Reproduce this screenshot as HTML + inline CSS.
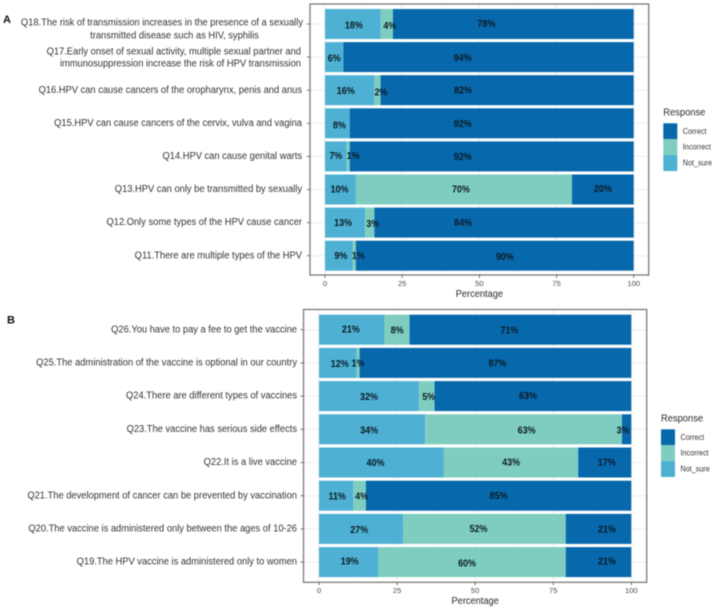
<!DOCTYPE html>
<html>
<head>
<meta charset="utf-8">
<title>HPV knowledge response charts</title>
<style>
html,body{margin:0;padding:0;background:#fff;}
#chart{display:block;width:717px;height:615px;filter:blur(0.45px);}
text{font-family:"Liberation Sans",sans-serif;}
</style>
</head>
<body>
<svg id="chart" xmlns="http://www.w3.org/2000/svg" width="717" height="615" viewBox="0 0 717 615"></svg>
<script>
const categoriesA = ["Q18","Q17","Q16.HPV can cause cancers of the oropharynx, penis and anus","Q15.HPV can cause cancers of the cervix, vulva and vagina","Q14.HPV can cause genital warts","Q13.HPV can only be transmitted by sexually","Q12.Only some types of the HPV cause cancer","Q11.There are multiple types of the HPV"];
const notSureA = [18,6,16,8,7,10,13,9];
const incorrectA = [4,0,2,0,1,70,3,1];
const correctA = [78,94,82,92,92,20,84,90];

const categoriesB = ["Q26.You have to pay a fee to get the vaccine","Q25.The administration of the vaccine is optional in our country","Q24.There are different types of vaccines","Q23.The vaccine has serious side effects","Q22.It is a live vaccine","Q21.The development of cancer can be prevented by vaccination","Q20.The vaccine is administered only between the ages of 10-26","Q19.The HPV vaccine is administered only to women"];
const notSureB = [21,12,32,34,40,11,27,19];
const incorrectB = [8,1,5,63,43,4,52,60];
const correctB = [71,87,63,3,17,85,21,21];

const xTicks = [0,25,50,75,100];
const legendLabels = ["Correct","Incorrect","Not_sure"];

const colors = {Correct:"#0868ac",Incorrect:"#7fcdc0",Not_sure:"#4eb1d3"};

// Hand-placed annotation offsets relative to each segment's centre: [dx,dy] for not-sure, incorrect, correct
const nudgeA = [
  [[1,2],[3,2.5],[-27,0.5]],
  [[0,1.5],[0,0],[-26,1]],
  [[-4,1],[3.5,2.5],[-44,0.5]],
  [[2,2.5],[0,0],[-29,1]],
  [[0,0],[5,0],[-29,1]],
  [[-1,0.5],[-3,0.5],[0,0]],
  [[-2,0.5],[3,1.5],[-41,0.5]],
  [[2,0.5],[4,0.5],[10,1.5]]
];
const nudgeB = [
  [[-1,0],[0,1],[-11,1]],
  [[2,1.5],[0,1],[2,1]],
  [[0,1],[2,1],[-5,0]],
  [[-3,1.5],[3,1.5],[-3.6,1.5]],
  [[-6,1],[0,0.5],[2,0.5]],
  [[1,1],[2,1],[0,0.5]],
  [[-2,1.5],[-6,0.5],[8.5,1]],
  [[1,-0.5],[-5,1.5],[8.5,-0.5]]
];

const svg = document.getElementById("chart");
const NS = "http://www.w3.org/2000/svg";

function make(tag, attrs, parent, content){
  const el = document.createElementNS(NS, tag);
  for (const k in attrs) el.setAttribute(k, attrs[k]);
  if (content !== undefined) el.textContent = content;
  (parent || svg).appendChild(el);
  return el;
}

function condensed(x, y, str, anchor, parent){
  return make("text",{transform:`translate(${x},${y}) scale(0.89,1)`,"text-anchor":anchor,"font-size":"10.5","fill":"#333","dominant-baseline":"central"},parent,str);
}

function drawPanel(cfg){
  const group = make("g",{});
  
  
  const xScale = v => cfg.x0 + (cfg.x100 - cfg.x0) * v / 100;
  const yScale = i => cfg.firstY + cfg.stepY * i;

  // gridlines
  [12.5,37.5,62.5,87.5].forEach(v=>{
    const g = make("line",{x1:xScale(v),x2:xScale(v),y1:cfg.top,y2:cfg.bottom,stroke:"#f3f3f3","stroke-width":0.6},group);
    
    
  });
  xTicks.forEach(v=>{
    const g = make("line",{x1:xScale(v),x2:xScale(v),y1:cfg.top,y2:cfg.bottom,stroke:"#ececec","stroke-width":1},group);
    
    
  });
  cfg.categories.forEach((c,i)=>{
    const g = make("line",{x1:cfg.left,x2:cfg.right,y1:yScale(i),y2:yScale(i),stroke:"#ececec","stroke-width":1},group);
    
    
  });

  // bars
  cfg.categories.forEach((c,i)=>{
    const segs = [
      {key:"Not_sure",v:cfg.notSure[i]},
      {key:"Incorrect",v:cfg.incorrect[i]},
      {key:"Correct",v:cfg.correct[i]}
    ];
    let acc = 0;
    segs.forEach(s=>{
      if (s.v > 0) {
        const r = make("rect",{x:xScale(acc),y:yScale(i)-cfg.barH/2,width:xScale(acc+s.v)-xScale(acc),height:cfg.barH,fill:colors[s.key]},group);
        
        
      }
      acc += s.v;
    });
    acc = 0;
    segs.forEach((s,j)=>{
      if (s.v > 0) {
        const n = cfg.nudge[i][j];
        const t = make("text",{transform:`translate(${xScale(acc + s.v/2)+n[0]},${yScale(i)+n[1]}) scale(0.88,1)`,"text-anchor":"middle","dominant-baseline":"central","font-size":"10.2","font-weight":"bold",fill:"#0a1a24"},group,s.v+"%");
        
        
      }
      acc += s.v;
    });
  });

  // panel border
  const border = make("rect",{x:cfg.left,y:cfg.top,width:cfg.right-cfg.left,height:cfg.bottom-cfg.top,fill:"none",stroke:"#7a7a7a","stroke-width":1.3},group);
  
  

  // x axis
  xTicks.forEach(v=>{
    const tk = make("line",{x1:xScale(v),x2:xScale(v),y1:cfg.bottom,y2:cfg.bottom+3,stroke:"#555","stroke-width":0.8},group);
    
    
    const lb = make("text",{x:xScale(v),y:cfg.bottom+8.3,"text-anchor":"middle","dominant-baseline":"central","font-size":"7.6",fill:"#4a4a4a"},group,String(v));
    
    
  });
  const xt = make("text",{transform:`translate(${(cfg.x0+cfg.x100)/2},${cfg.bottom+19.3}) scale(0.89,1)`,"text-anchor":"middle","dominant-baseline":"central","font-size":"10.4",fill:"#2a2a2a"},group,"Percentage");
  
  

  // y axis
  cfg.categories.forEach((c,i)=>{
    const tk = make("line",{x1:cfg.left-3,x2:cfg.left,y1:yScale(i),y2:yScale(i),stroke:"#555","stroke-width":0.8},group);
    
    
    if (c.length > 4) {
      const lb = condensed(cfg.labelRight, yScale(i), c, "end", group);
      
      
    }
  });

  // legend
  const lg = make("g",{},group);
  
  
  const title = make("text",{transform:`translate(${cfg.legendX},${cfg.legendY}) scale(0.9,1)`,"dominant-baseline":"central","font-size":"10.4",fill:"#2a2a2a"},lg,"Response");
  
  
  legendLabels.forEach((name,i)=>{
    const y = cfg.legendY + 10.3 + i*15.9;
    const k = make("rect",{x:cfg.legendX,y:y,width:14,height:15.9,fill:colors[name]},lg);
    
    
    const t = make("text",{transform:`translate(${cfg.legendX+19.5},${y+7.8}) scale(0.88,1)`,"dominant-baseline":"central","font-size":"8.2",fill:"#333"},lg,name);
    
    
  });
  return group;
}

const panelA = drawPanel({name:"chart-a",categories:categoriesA,notSure:notSureA,incorrect:incorrectA,correct:correctA,nudge:nudgeA,
  left:310,right:648.7,top:4,bottom:275,x0:325,x100:633.7,firstY:24,stepY:33.1,barH:30,labelRight:302,legendX:663.3,legendY:113});
const panelB = drawPanel({name:"chart-b",categories:categoriesB,notSure:notSureB,incorrect:incorrectB,correct:correctB,nudge:nudgeB,
  left:303.5,right:646.7,top:309.5,bottom:582.3,x0:319,x100:631.3,firstY:329.7,stepY:33.2,barH:30,labelRight:297,legendX:661,legendY:419});

[["Q18.The risk of transmission increases in the presence of a sexually",303,23,"end"],
 ["transmitted disease such as HIV, syphilis",174.5,36,"middle"],
 ["Q17.Early onset of sexual activity, multiple sexual partner and",301,52,"end"],
 ["immunosuppression increase the risk of HPV transmission",301,64,"end"]].forEach(line=>{
  const lb = condensed(line[1],line[2],line[0],line[3],panelA);
  
  
});

const tagA = make("text",{x:3,y:20,"dominant-baseline":"central","font-size":"11","font-weight":"bold",fill:"#111"},svg,"A");


const tagB = make("text",{x:7,y:320.5,"dominant-baseline":"central","font-size":"11","font-weight":"bold",fill:"#111"},svg,"B");


</script>
</body>
</html>
